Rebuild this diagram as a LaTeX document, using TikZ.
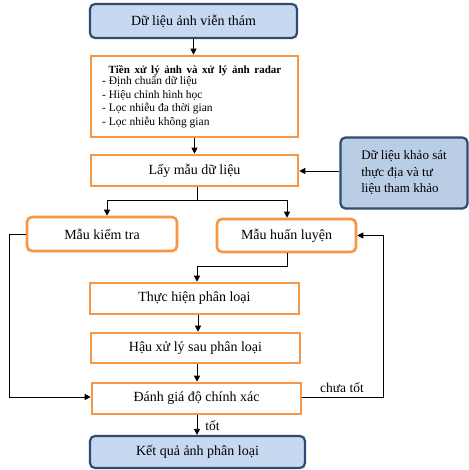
\documentclass[tikz,border=0pt]{standalone}
\usepackage{fontspec}
\setmainfont{Liberation Serif}
\usetikzlibrary{arrows.meta,calc}
\definecolor{bfill}{HTML}{C6D9F1}
\definecolor{bfill2}{HTML}{B9CDE5}
\definecolor{bdraw}{HTML}{2F4B70}
\definecolor{ored}{HTML}{F79646}
\tikzset{
  bluebox/.style={draw=bdraw,line width=2.2pt,fill=bfill,rounded corners=5pt,inner sep=0pt,font=\fontsize{14}{16}\selectfont},
  orbox/.style={draw=ored,line width=2.6pt,fill=white,inner sep=0pt,font=\fontsize{14}{16}\selectfont},
  orround/.style={orbox,rounded corners=5pt},
  conn/.style={line width=0.8pt,-{Triangle[length=6pt,width=6pt]}},
  plain/.style={line width=0.8pt},
  lbl/.style={font=\fontsize{13.5}{15}\selectfont,inner sep=1pt}
}
\begin{document}
\begin{tikzpicture}[x=1pt,y=-1pt]
\useasboundingbox (0,0) rectangle (468,470);
\node[bluebox,minimum width=207pt,minimum height=34pt] (b1) at (193.5,21) {Dữ liệu ảnh viễn thám};
\node[orbox,minimum width=207pt,minimum height=81pt] (b2) at (194.5,96.5) {};
\node[anchor=base,inner sep=0pt,font=\fontsize{11}{13.5}\selectfont] (b2t) at (195,73.5) {\textbf{Tiền\, xử\, lý\, ảnh\, và\, xử\, lý\, ảnh\, radar}};
\node[anchor=north west,inner sep=0pt,align=left,font=\fontsize{11.5}{13.6}\selectfont] (b2l) at (102,76) {- Định chuẩn dữ liệu\\- Hiệu chỉnh hình học\\- Lọc nhiễu đa thời gian\\- Lọc nhiễu không gian};
\node[orbox,minimum width=207pt,minimum height=31pt] (b3) at (194.5,170.5) {Lấy mẫu dữ liệu};
\node[bluebox,fill=bfill2,minimum width=127pt,minimum height=71pt,align=left,font=\fontsize{13}{16.5}\selectfont] (side) at (404,173) {Dữ liệu khảo sát\\thực địa và tư\\liệu tham khảo};
\node[orround,minimum width=150pt,minimum height=34pt] (mkt) at (102,234) {Mẫu kiểm tra};
\node[orround,minimum width=139pt,minimum height=33pt] (mhl) at (286.5,235.5) {Mẫu huấn luyện};
\node[orbox,minimum width=209pt,minimum height=31pt] (th) at (194.5,298.5) {Thực hiện phân loại};
\node[orbox,minimum width=209pt,minimum height=30pt] (hxl) at (195.5,348) {Hậu xử lý sau phân loại};
\node[orbox,minimum width=209pt,minimum height=31pt] (dg) at (196.5,398.5) {Đánh giá độ chính xác};
\node[bluebox,minimum width=215pt,minimum height=32pt] (kq) at (197.5,452) {Kết quả ảnh phân loại};

\coordinate (split) at (197,200);
\coordinate (mktin) at (107,200);
\coordinate (mhlin) at (287,200);
\coordinate (mhlout) at (287,266);
\coordinate (thin) at (197,266);
\coordinate (leftc) at (9,234);
\coordinate (rightc) at (383,397);

\draw[conn] (b1.south) -- (b1.south |- b2.north);
\draw[conn] (b2.south) -- (b3.north);
\draw[conn] (side.west |- 0,171) -- (b3.east |- 0,171);
\draw[plain] (b3.south -| split) -- (split);
\draw[conn] (mktin) -| (mktin |- mkt.north) ;
\draw[plain] (mktin) -- (mhlin);
\draw[conn] (mhlin) -- (mhlin |- mhl.north);
\draw[plain] (mhlout |- mhl.south) -- (mhlout) -- (thin);
\draw[conn] (thin) -- (thin |- th.north);
\draw[conn] (th.south -| 198,0) -- (hxl.north -| 198,0);
\draw[conn] (hxl.south -| 197,0) -- (dg.north -| 197,0);
\draw[conn] (dg.south -| 197,0) -- node[lbl,right,xshift=7pt,yshift=-1pt] (tot) {tốt} (kq.north -| 197,0);
\draw[conn] (mkt.west) -- (leftc) |- (dg.west |- 0,397);
\draw[conn] (dg.east |- rightc) -- (rightc) |- (mhl.east);
\node[lbl,anchor=south] (ct) at (342,394) {chưa tốt};
\end{tikzpicture}
\end{document}
